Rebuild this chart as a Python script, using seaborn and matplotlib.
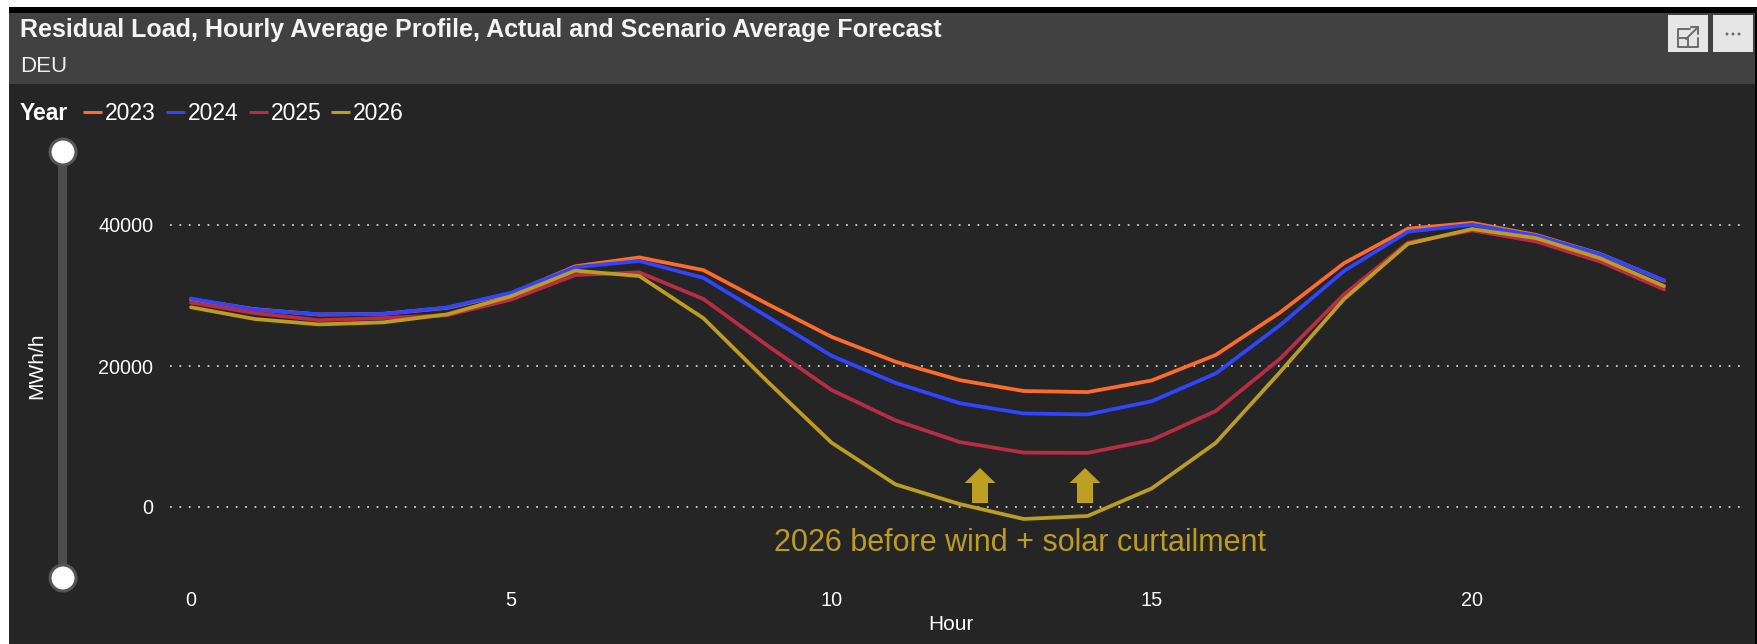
import matplotlib
matplotlib.use("Agg")
import matplotlib.pyplot as plt
from matplotlib.patches import Rectangle, Ellipse, Polygon
from matplotlib.lines import Line2D
import pandas as pd
import seaborn as sns

hours = list(range(24))
y2023 = [29450,28050,27300,27400,28250,30300,34150,35400,33600,28800,24140,20600,18000,16450,16300,17950,21570,27570,34570,39480,40300,38600,35900,32100]
y2024 = [29570,28000,27330,27380,28300,30400,34000,34900,32500,27000,21460,17600,14730,13270,13130,15000,18950,25760,33470,39050,40050,38480,35860,32140]
y2025 = [29000,27500,26500,26800,27200,29420,32900,33280,29500,22900,16600,12280,9220,7720,7670,9500,13620,21000,30140,37500,39240,37670,34810,30860]
y2026 = [28330,26660,25900,26190,27330,29900,33520,32760,26780,17800,9130,3200,420,-1700,-1270,2640,9100,19100,29470,37330,39430,38140,35290,31330]
years = ["2023", "2024", "2025", "2026"]
colors = ["#FF6B2B", "#2F45FF", "#B82D45", "#BD9C22"]
x_ticks = [0, 5, 10, 15, 20]
y_ticks = [0, 20000, 40000]

W, H = 1758, 644
df = pd.DataFrame({"Hour": hours * 4,
                   "Value": y2023 + y2024 + y2025 + y2026,
                   "Year": sum([[y] * 24 for y in years], [])})

sns.set_theme(style="dark")
plt.rcParams["font.family"] = ["Liberation Sans", "DejaVu Sans"]
fig = plt.figure(figsize=(W / 100, H / 100), dpi=100, facecolor="white")

def fx(x):
    return x / W

def fy(y):
    return 1 - y / H

def px(x, y, w, h, **kw):
    fig.add_artist(Rectangle((fx(x), fy(y + h)), w / W, h / H, transform=fig.transFigure, **kw))

def ln(xs, ys, **kw):
    fig.add_artist(Line2D([fx(v) for v in xs], [fy(v) for v in ys], transform=fig.transFigure, **kw))

px(9, 7, 1749, 637, fc="#252525", ec="none")
px(9, 7, 1749, 6, fc="#000000", ec="none")
px(9, 13, 1746, 71, fc="#414141", ec="none")
px(1755, 7, 3, 637, fc="#000000", ec="none")
px(1668, 15, 40, 37, fc="#E6E6E6", ec="none")
px(1713, 15, 40, 37, fc="#E6E6E6", ec="none")
px(58, 160, 9, 410, fc="#4D4D4D", ec="none")

# expand icon (no installed font has this glyph)
icon = "#6A6A6A"
ln([1690, 1678, 1678, 1698, 1698], [29, 29, 47, 47, 38], color=icon, lw=1.4)
ln([1678, 1688, 1688], [38, 38, 47], color=icon, lw=1.4)
ln([1686, 1698], [39, 27], color=icon, lw=1.4)
ln([1691, 1698, 1698], [27, 27, 34], color=icon, lw=1.4)

# plot axes in pixels
left, right, top, bottom = 170, 1743, 140, 570
ax = fig.add_axes([left / W, 1 - bottom / H, (right - left) / W, (bottom - top) / H])
ax.set_zorder(5)
ax.set_facecolor("none")
pxh = 64.05
ax.set_xlim((left - 191) / pxh, (right - 191) / pxh)
pv = 282 / 40000
ax.set_ylim((507 - bottom) / pv, (507 - top) / pv)
for sp in ax.spines.values():
    sp.set_visible(False)
ax.grid(False)
for t in y_ticks:
    ax.axhline(t, color="#CFCFCF", lw=1.3, ls=(0, (1, 4.2)), zorder=1)
sns.lineplot(data=df, x="Hour", y="Value", hue="Year", palette=colors, linewidth=2.7,
             ax=ax, legend=False, errorbar=None, zorder=3)
ax.set_xlabel("")
ax.set_ylabel("")
ax.set_xticks(x_ticks)
ax.set_yticks(y_ticks)
ax.tick_params(axis="x", colors="white", labelsize=14.3, length=0, pad=15)
ax.tick_params(axis="y", colors="white", labelsize=14.3, length=0, pad=12)

def tx(x, y, s, **kw):
    kw.setdefault("color", "white")
    kw.setdefault("va", "center")
    fig.text(fx(x), fy(y), s, zorder=6, **kw)

tx(20, 30, "Residual Load, Hourly Average Profile, Actual and Scenario Average Forecast", fontsize=18, fontweight="bold", color="#F4F4F4")
tx(20, 66, "DEU", fontsize=16, color="#EDEDED")
tx(20, 113, "Year", fontsize=16.5, fontweight="bold")
for x0, yr, c in zip([83, 166, 249, 331], years, colors):
    ln([x0, x0 + 19], [112, 112], color=c, lw=2.2, solid_capstyle="butt")
    tx(x0 + 22, 113, yr, fontsize=16.5)
tx(37, 366, "MWh/h", fontsize=15, rotation=90, ha="center")
tx(951, 624, "Hour", fontsize=15, ha="center")
tx(1020, 543, "2026 before wind + solar curtailment", fontsize=22, color=colors[3], ha="center")
for dx in [-6, 0, 6]:
    fig.add_artist(Ellipse((fx(1733 + dx), fy(34)), 3 / W, 3 / H, transform=fig.transFigure, fc="#707070", ec="none"))

for cx in [980, 1085]:
    pts = [(cx, 468), (cx + 15.5, 483), (cx + 8, 483), (cx + 8, 503), (cx - 8, 503), (cx - 8, 483), (cx - 15.5, 483)]
    fig.add_artist(Polygon([(fx(a), fy(b)) for a, b in pts], closed=True, transform=fig.transFigure, fc="#BD9F22", ec="none", zorder=7))

for cy in [152, 578]:
    fig.add_artist(Ellipse((fx(63), fy(cy)), 26 / W, 26 / H, transform=fig.transFigure, fc="white", ec="#555555", lw=2.2))

fig.savefig("out.png", dpi=100)
